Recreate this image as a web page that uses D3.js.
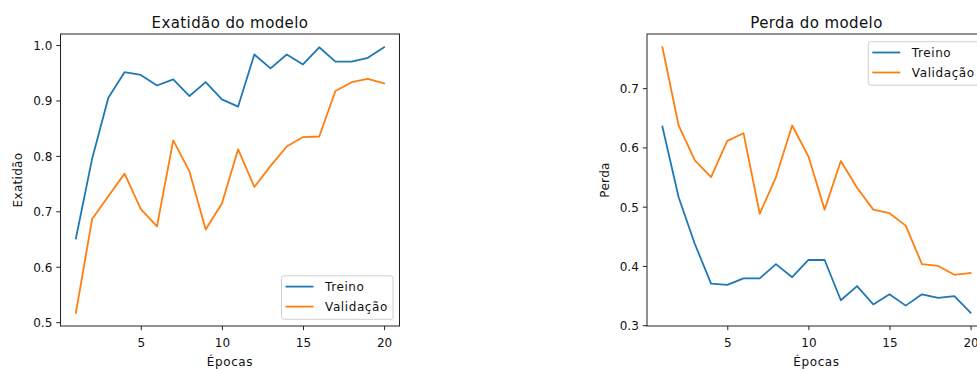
<!DOCTYPE html>
<html>
<head>
<meta charset="utf-8">
<script src="https://cdn.jsdelivr.net/npm/d3@7"></script>
<style>
  html, body { margin: 0; padding: 0; background: #fff; overflow: hidden; }
  svg { display: block; }
  text { font-family: "DejaVu Sans", sans-serif; fill: #111; }
</style>
</head>
<body>
<svg id="chart" width="977" height="370"></svg>
<script>
// Training history, one value per epoch
const epochs = [1, 2, 3, 4, 5, 6, 7, 8, 9, 10, 11, 12, 13, 14, 15, 16, 17, 18, 19, 20];
const accTrain = [0.651, 0.795, 0.905, 0.951, 0.946, 0.927, 0.938, 0.908, 0.933, 0.902, 0.889, 0.983, 0.958, 0.983, 0.965, 0.996, 0.970, 0.970, 0.977, 0.996];
const accVal = [0.517, 0.686, 0.727, 0.768, 0.704, 0.673, 0.828, 0.772, 0.667, 0.714, 0.812, 0.744, 0.782, 0.817, 0.834, 0.835, 0.917, 0.933, 0.939, 0.931];
const lossTrain = [0.635, 0.516, 0.437, 0.370, 0.368, 0.379, 0.379, 0.403, 0.381, 0.410, 0.410, 0.342, 0.366, 0.335, 0.352, 0.333, 0.352, 0.346, 0.349, 0.321];
const lossVal = [0.769, 0.637, 0.578, 0.550, 0.611, 0.624, 0.488, 0.550, 0.637, 0.585, 0.495, 0.577, 0.532, 0.495, 0.489, 0.468, 0.403, 0.400, 0.385, 0.388];

const epochTicks = [5, 10, 15, 20];
const accTicks = [0.5, 0.6, 0.7, 0.8, 0.9, 1.0];
const lossTicks = [0.3, 0.4, 0.5, 0.6, 0.7];

const seriesNames = ["Treino", "Validação"];
const seriesColors = ["#1f77b4", "#ff7f0e"];

const svg = d3.select("#chart");
const fmt = d3.format(".1f");

function panel(cfg) {
  const g = svg.append("g");
  const { left, right, top, bottom } = cfg.box;

  const x = d3.scaleLinear()
    .domain([1 - 0.05 * 19, 20 + 0.05 * 19])
    .range([left, right]);

  const all = cfg.series.flat();
  const [lo, hi] = d3.extent(all);
  const pad = (hi - lo) * 0.05;
  const y = d3.scaleLinear().domain([lo - pad, hi + pad]).range([bottom, top]);

  // data lines
  const line = d3.line().x((d, i) => x(epochs[i])).y(d => y(d));
  cfg.series.forEach((s, k) => {
    g.append("path")
      .datum(s)
      .attr("fill", "none")
      .attr("stroke", seriesColors[k])
      .attr("stroke-width", 1.8)
      .attr("stroke-linejoin", "round")
      .attr("stroke-linecap", "square")
      .attr("d", line);
  });

  // axes
  const xAxis = d3.axisBottom(x).tickValues(epochTicks).tickSize(4.2).tickPadding(4)
    .tickFormat(d3.format("d"));
  const yAxis = d3.axisLeft(y).tickValues(cfg.yTicks).tickSize(4.2).tickPadding(4)
    .tickFormat(fmt);

  const gx = g.append("g").attr("transform", `translate(0,${bottom})`).call(xAxis);
  const gy = g.append("g").attr("transform", `translate(${left},0)`).call(yAxis);
  [gx, gy].forEach(a => {
    a.select(".domain").remove();
    a.selectAll(".tick line").attr("stroke", "#222").attr("stroke-width", 1);
    a.selectAll(".tick text")
      .attr("font-family", "DejaVu Sans, sans-serif")
      .attr("font-size", 12)
      .attr("fill", "#111");
  });
  gx.selectAll(".tick text").attr("dy", null).attr("y", 20.5);
  gy.selectAll(".tick text").attr("dy", null).attr("y", 4.4);

  // frame
  g.append("rect")
    .attr("x", left).attr("y", top)
    .attr("width", right - left).attr("height", bottom - top)
    .attr("fill", "none").attr("stroke", "#222").attr("stroke-width", 1);

  // title and axis labels
  g.append("text")
    .attr("x", (left + right) / 2).attr("y", 27.5)
    .attr("text-anchor", "middle").attr("font-size", 15)
    .attr("letter-spacing", 0.4)
    .text(cfg.title);
  g.append("text")
    .attr("x", (left + right) / 2).attr("y", 365.5)
    .attr("text-anchor", "middle").attr("font-size", 12)
    .attr("letter-spacing", 0.6)
    .text("Épocas");
  g.append("text")
    .attr("transform", `translate(${cfg.yLabelX},${(top + bottom) / 2}) rotate(-90)`)
    .attr("text-anchor", "middle").attr("font-size", 12)
    .attr("letter-spacing", 0.3)
    .text(cfg.yLabel);

  // legend
  const lg = g.append("g").attr("transform", `translate(${cfg.legend[0]},${cfg.legend[1]})`);
  lg.append("rect")
    .attr("width", 111.5).attr("height", 43.5)
    .attr("rx", 2.5).attr("ry", 2.5)
    .attr("fill", "#fff").attr("fill-opacity", 0.8)
    .attr("stroke", "#d0d0d0").attr("stroke-width", 1);
  seriesNames.forEach((name, k) => {
    const yy = 10.8 + k * 20;
    lg.append("line")
      .attr("x1", 4).attr("x2", 32).attr("y1", yy).attr("y2", yy)
      .attr("stroke", seriesColors[k]).attr("stroke-width", 1.8);
    lg.append("text")
      .attr("x", 43.5).attr("y", yy + 4.4)
      .attr("font-size", 12)
      .attr("letter-spacing", 0.6)
      .text(name);
  });
}

panel({
  box: { left: 60.5, right: 399.5, top: 34, bottom: 326 },
  series: [accTrain, accVal],
  yTicks: accTicks,
  title: "Exatidão do modelo",
  yLabel: "Exatidão",
  yLabelX: 22,
  legend: [281.5, 275.8]
});

panel({
  box: { left: 647, right: 986, top: 34, bottom: 326 },
  series: [lossTrain, lossVal],
  yTicks: lossTicks,
  title: "Perda do modelo",
  yLabel: "Perda",
  yLabelX: 608.5,
  legend: [868.3, 41.7]
});
</script>
</body>
</html>
